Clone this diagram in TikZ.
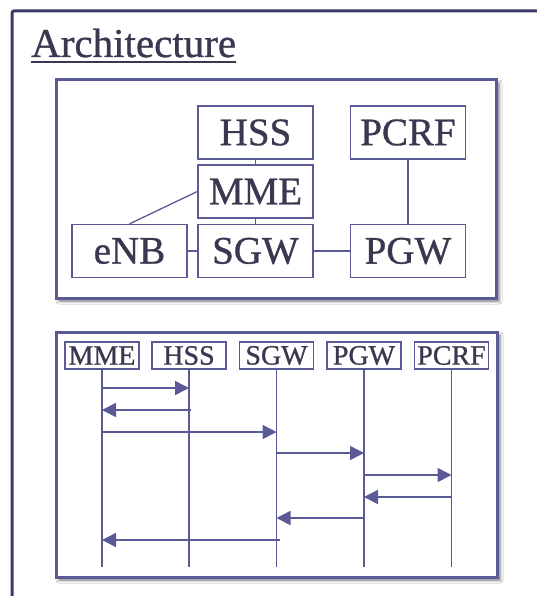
\documentclass[tikz,border=0pt]{standalone}
\usepackage{fontspec}
\setmainfont{Liberation Serif}[FakeBold=0.8]
\usetikzlibrary{arrows.meta,shadows.blur}
\definecolor{frameC}{HTML}{3B3B68}
\definecolor{boxC}{HTML}{5A5A96}
\definecolor{txtC}{HTML}{383850}
\tikzset{
  panel/.style={draw=boxC, line width=3pt, fill=white,
    blur shadow={shadow xshift=3pt, shadow yshift=-3pt, shadow blur radius=3pt, shadow opacity=55}},
  netbox/.style={draw=boxC, line width=1.3pt, fill=white, text=txtC, inner sep=0pt,
    minimum width=115pt, minimum height=53pt, font=\fontsize{39}{44}\selectfont},
  hdrbox/.style={draw=boxC, line width=1.3pt, fill=white, text=txtC, inner sep=0pt,
    minimum width=74pt, minimum height=27pt, font=\fontsize{28}{32}\selectfont},
  link/.style={draw=boxC, line width=1.3pt},
  life/.style={draw=boxC, line width=1.6pt},
  msg/.style={draw=boxC, line width=1.6pt, -{Triangle[length=14pt,width=14pt]}},
}
\begin{document}
\begin{tikzpicture}[x=1pt,y=-1pt]
\useasboundingbox (0,0) rectangle (537,596);
\fill[white] (0,0) rectangle (537,596);
% outer frame
\draw[frameC, line width=3pt, rounded corners=2pt] (12,600) -- (12,11) -- (545,11);
% title
\node[anchor=base west, inner sep=0pt, text=txtC, font=\fontsize{41}{48}\selectfont] (title) at (31,57) {Architecture};
\draw[txtC, line width=1.8pt] ([yshift=-5pt]title.base west) -- ([yshift=-5pt]title.base east);

% top panel
\path[panel] (56,80) rectangle (496,298);
\node[netbox] (HSS) at (255.5,132.5) {HSS};
\node[netbox] (PCRF) at (408,132.5) {PCRF};
\node[netbox] (MME) at (255.5,191.5) {MME};
\node[netbox] (eNB) at (129.5,251) {eNB};
\node[netbox] (SGW) at (255.5,251) {SGW};
\node[netbox] (PGW) at (408,251) {PGW};
\draw[link] (HSS.south) -- (MME.north);
\draw[link] (MME.south) -- (SGW.north);
\draw[link] (eNB.east) -- (SGW.west);
\draw[link] (SGW.east) -- (PGW.west);
\draw[link] (PCRF.south) -- (PGW.north);
\draw[link] (MME.west) -- (eNB.north);

% bottom panel
\path[panel] (56,332) rectangle (497,577);
\node[hdrbox] (hMME) at (102,355.5) {MME};
\node[hdrbox] (hHSS) at (189,355.5) {HSS};
\node[hdrbox] (hSGW) at (276.5,355.5) {SGW};
\node[hdrbox] (hPGW) at (364,355.5) {PGW};
\node[hdrbox] (hPCRF) at (451.5,355.5) {PCRF};
\coordinate (eMME) at (102,567);
\coordinate (eHSS) at (189,567);
\coordinate (eSGW) at (276.5,567);
\coordinate (ePGW) at (364,567);
\coordinate (ePCRF) at (451.5,567);
\draw[life] (hMME.south) -- (eMME);
\draw[life] (hHSS.south) -- (eHSS);
\draw[life] (hSGW.south) -- (eSGW);
\draw[life] (hPGW.south) -- (ePGW);
\draw[life] (hPCRF.south) -- (ePCRF);

\draw[msg] (hMME |- 0,388) -- (hHSS |- 0,388);
\draw[msg] ([xshift=2pt]hHSS |- 0,410) -- (hMME |- 0,410);
\draw[msg] (hMME |- 0,432) -- (hSGW |- 0,432);
\draw[msg] (hSGW |- 0,453) -- (hPGW |- 0,453);
\draw[msg] (hPGW |- 0,475) -- (hPCRF |- 0,475);
\draw[msg] (hPCRF |- 0,497) -- (hPGW |- 0,497);
\draw[msg] (hPGW |- 0,518) -- (hSGW |- 0,518);
\draw[msg] ([xshift=3pt]hSGW |- 0,540) -- (hMME |- 0,540);
\end{tikzpicture}
\end{document}
